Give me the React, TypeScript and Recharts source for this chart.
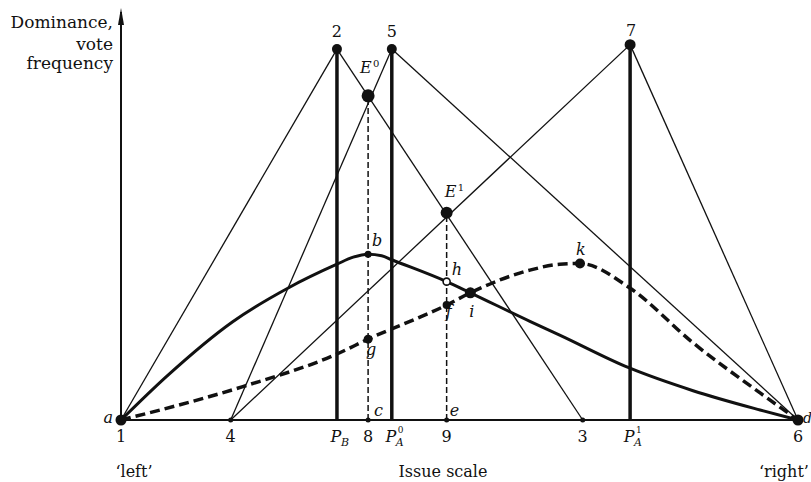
import React from 'react';
import { ComposedChart, Line, Scatter, XAxis, YAxis, ReferenceDot } from 'recharts';

const FONT = '"DejaVu Serif", "Liberation Serif", serif';
const INK = '#111';

// Issue scale: position 1 = 0 ... position 6 = 100
const tickValues = [0, 16.2, 31.9, 36.5, 40.0, 48.1, 68.2, 75.2, 100];
const tickMain = ['1', '4', 'P', '8', 'P', '9', '3', 'P', '6'];
const tickSub = ['', '', 'B', '', 'A', '', '', 'A', ''];
const tickSup = ['', '', '', '', '0', '', '', '1', ''];

// Named points (x on issue scale, y = dominance / vote frequency)
const pointName = ['a', 'n4', 'n2', 'n5', 'n7', 'E0', 'E1', 'b', 'g', 'h', 'f', 'i', 'k', 'd', 'c', 'e', 'n3', 'pB', 'pA0', 'pA1'];
const pointX = [0, 16.2, 31.9, 40.0, 75.2, 36.5, 48.1, 36.5, 36.5, 48.1, 48.1, 51.6, 67.8, 100, 36.5, 48.1, 68.2, 31.9, 40.0, 75.2];
const pointY = [0, 0, 100, 100, 101.2, 87.4, 55.9, 44.7, 21.8, 37.3, 31.0, 34.3, 42.2, 0, 0, 0, 0, 0, 0, 0];

// Straight dominance lines
const thinLines = [['a', 'n2'], ['n2', 'n3'], ['n4', 'n5'], ['n5', 'd'], ['n4', 'n7'], ['n7', 'd']];
// Party positions (thick verticals)
const partyLines = [['pB', 'n2'], ['pA0', 'n5'], ['pA1', 'n7']];
// Dashed verticals
const dropLines = [['c', 'E0'], ['e', 'E1']];

// Vote frequency curves
const solidCurveX = [0, 6.7, 16.5, 24.7, 31.9, 34.3, 36.5, 38.5, 40.0, 48.1, 51.6, 60.4, 64.8, 75.0, 84.5, 94.4, 100];
const solidCurveY = [0, 11.7, 26.5, 35.6, 42.0, 43.9, 44.7, 44.3, 43.2, 37.3, 34.3, 26.6, 22.9, 14.1, 7.9, 2.7, 0];
const dashedCurveX = [0, 18.0, 31.9, 36.5, 48.1, 51.6, 60.4, 64.8, 67.8, 75.0, 84.5, 94.4, 100];
const dashedCurveY = [0, 9.0, 17.8, 21.8, 31.0, 34.3, 40.4, 42.0, 42.2, 35.8, 20.8, 7.3, 0];

// Which points get a marker
const bigDots = ['n2', 'n5', 'n7', 'E0', 'E1', 'i', 'k', 'a', 'd'];
const smallDots = ['n4', 'c', 'e', 'n3', 'b', 'g', 'f'];
const hollowDots = ['h'];
const labelled = ['n2', 'n5', 'n7', 'E0', 'E1', 'b', 'h', 'f', 'g', 'i', 'k', 'a', 'd', 'c', 'e'];

const labelText: Record<string, string> = {
  n2: '2', n5: '5', n7: '7', E0: 'E', E1: 'E', b: 'b', h: 'h', f: 'f', g: 'g', i: 'i', k: 'k', a: 'a', d: 'd', c: 'c', e: 'e',
};
const labelSup: Record<string, string> = { E0: '0', E1: '1' };

// styling (offsets in px, radii)
const labelPos: Record<string, { dx: number; dy: number; anchor: string; italic: boolean; size?: number }> = {
  n2: { dx: 0, dy: -12, anchor: 'middle', italic: false },
  n5: { dx: 0, dy: -12, anchor: 'middle', italic: false },
  n7: { dx: 1, dy: -9, anchor: 'middle', italic: false },
  E0: { dx: -8, dy: -23, anchor: 'start', italic: true },
  E1: { dx: -2, dy: -16, anchor: 'start', italic: true },
  b: { dx: 4, dy: -8, anchor: 'start', italic: true },
  h: { dx: 5, dy: -7, anchor: 'start', italic: true },
  f: { dx: -1, dy: 12, anchor: 'start', italic: true },
  g: { dx: -2, dy: 16, anchor: 'start', italic: true },
  i: { dx: -1, dy: 24, anchor: 'start', italic: true },
  k: { dx: -4, dy: -8, anchor: 'start', italic: true },
  a: { dx: -8, dy: 3, anchor: 'end', italic: true },
  d: { dx: 5, dy: 3, anchor: 'start', italic: true, size: 14 },
  c: { dx: 6, dy: -4, anchor: 'start', italic: true },
  e: { dx: 3, dy: -4, anchor: 'start', italic: true },
};
const dotRadius: Record<string, number> = {
  n2: 5, n5: 5, n7: 5.5, E0: 6.5, E1: 6, i: 5.5, k: 5, a: 5.5, d: 5.5,
  n4: 2.5, c: 2.5, e: 2.5, n3: 2.5, b: 3.5, g: 4.5, f: 4, h: 3.5,
};

const pt = (name: string) => {
  const i = pointName.indexOf(name);
  return { name, x: pointX[i], y: pointY[i] };
};
const curve = (xs: number[], ys: number[]) => xs.map((x, i) => ({ x, y: ys[i] }));

const IssueTick = (props: any) => {
  const { x, y, payload } = props;
  const i = tickValues.indexOf(payload.value);
  if (i < 0) return null;
  const base = y + 22;
  if (!tickSub[i]) {
    return (
      <text x={x} y={base} textAnchor="middle" fontFamily={FONT} fontSize={16} fill={INK}>
        {tickMain[i]}
      </text>
    );
  }
  return (
    <g>
      <text x={x - 1} y={base} textAnchor="middle" fontFamily={FONT} fontStyle="italic" fontSize={16} fill={INK}>
        {tickMain[i]}
      </text>
      <text x={x + 4} y={base + 4} fontFamily={FONT} fontStyle="italic" fontSize={11} fill={INK}>
        {tickSub[i]}
      </text>
      {tickSup[i] ? (
        <text x={x + 6} y={base - 9} fontFamily={FONT} fontSize={9} fill={INK}>
          {tickSup[i]}
        </text>
      ) : null}
    </g>
  );
};

const XWords = (props: any) => {
  const vb = props.viewBox || { x: 121, y: 420 };
  const by = vb.y + 57;
  return (
    <g fontFamily={FONT} fontSize={16} fill={INK}>
      <text x={vb.x + 13} y={by} textAnchor="middle">{'\u2018left\u2019'}</text>
      <text x={vb.x + 322} y={by} textAnchor="middle">Issue scale</text>
      <text x={vb.x + 638} y={by} textAnchor="start">{'\u2018right\u2019'}</text>
    </g>
  );
};

const YWords = (props: any) => {
  const vb = props.viewBox || { x: 0, y: 12, width: 121 };
  const ex = vb.x + vb.width - 8;
  return (
    <g fontFamily={FONT} fontSize={17} fill={INK}>
      <text x={ex} y={vb.y + 16} textAnchor="end">Dominance,</text>
      <text x={ex} y={vb.y + 38} textAnchor="end">vote</text>
      <text x={ex} y={vb.y + 57} textAnchor="end">frequency</text>
    </g>
  );
};

const Arrow = (props: any) => {
  const { cx, cy } = props;
  return <path d={`M${cx},${cy - 4} L${cx - 3},${cy + 13} L${cx + 3},${cy + 13} Z`} fill={INK} />;
};

const DotShape = (props: any) => {
  const { cx, cy, payload } = props;
  const r = dotRadius[payload.name] ?? 3;
  return <circle cx={cx} cy={cy} r={r} fill={INK} />;
};
const HollowShape = (props: any) => {
  const { cx, cy, payload } = props;
  const r = dotRadius[payload.name] ?? 3;
  return <circle cx={cx} cy={cy} r={r} fill="#fff" stroke={INK} strokeWidth={1.6} />;
};
const LabelShape = (props: any) => {
  const { cx, cy, payload } = props;
  const p = labelPos[payload.name];
  const t = labelText[payload.name];
  const sup = labelSup[payload.name];
  if (!p) return null;
  const tx = cx + p.dx;
  const ty = cy + p.dy;
  return (
    <g>
      <text x={tx} y={ty} textAnchor={p.anchor} fontFamily={FONT} fontStyle={p.italic ? 'italic' : 'normal'} fontSize={p.size ?? 16} fill={INK}>
        {t}
      </text>
      {sup ? (
        <text x={tx + 13} y={ty - 6} fontFamily={FONT} fontSize={10} fill={INK}>
          {sup}
        </text>
      ) : null}
    </g>
  );
};

export default function App() {
  return (
    <div style={{ position: 'absolute', left: 0, top: 0, background: '#fff' }}>
      <ComposedChart width={811} height={482} margin={{ top: 12, right: 13, bottom: 0, left: 0 }}>
        <XAxis
          type="number"
          dataKey="x"
          domain={[0, 100]}
          ticks={tickValues}
          interval={0}
          tick={<IssueTick />}
          tickLine={false}
          tickSize={0}
          tickMargin={0}
          axisLine={{ stroke: INK, strokeWidth: 2 }}
          height={62}
          label={<XWords />}
        />
        <YAxis
          type="number"
          dataKey="y"
          domain={[0, 110]}
          ticks={[]}
          tick={false}
          tickLine={false}
          width={121}
          axisLine={{ stroke: INK, strokeWidth: 2 }}
          label={<YWords />}
        />
        <ReferenceDot x={0} y={110} r={0} shape={<Arrow />} />
        {thinLines.map(([p, q], idx) => (
          <Line key={'thin' + idx} data={[pt(p), pt(q)]} dataKey="y" type="linear" stroke={INK} strokeWidth={1.3} dot={false} activeDot={false} isAnimationActive={false} legendType="none" />
        ))}
        {partyLines.map(([p, q], idx) => (
          <Line key={'party' + idx} data={[pt(p), pt(q)]} dataKey="y" type="linear" stroke={INK} strokeWidth={3.5} dot={false} activeDot={false} isAnimationActive={false} legendType="none" />
        ))}
        {dropLines.map(([p, q], idx) => (
          <Line key={'drop' + idx} data={[pt(p), pt(q)]} dataKey="y" type="linear" stroke={INK} strokeWidth={1.5} strokeDasharray="6 3" dot={false} activeDot={false} isAnimationActive={false} legendType="none" />
        ))}
        <Line data={curve(solidCurveX, solidCurveY)} dataKey="y" type="monotone" stroke={INK} strokeWidth={3} dot={false} activeDot={false} isAnimationActive={false} legendType="none" />
        <Line data={curve(dashedCurveX, dashedCurveY)} dataKey="y" type="monotone" stroke={INK} strokeWidth={3.5} strokeDasharray="10 5" dot={false} activeDot={false} isAnimationActive={false} legendType="none" />
        <Scatter data={bigDots.map(pt)} dataKey="y" shape={<DotShape />} isAnimationActive={false} legendType="none" />
        <Scatter data={smallDots.map(pt)} dataKey="y" shape={<DotShape />} isAnimationActive={false} legendType="none" />
        <Scatter data={hollowDots.map(pt)} dataKey="y" shape={<HollowShape />} isAnimationActive={false} legendType="none" />
        <Scatter data={labelled.map(pt)} dataKey="y" shape={<LabelShape />} isAnimationActive={false} legendType="none" />
      </ComposedChart>
    </div>
  );
}
